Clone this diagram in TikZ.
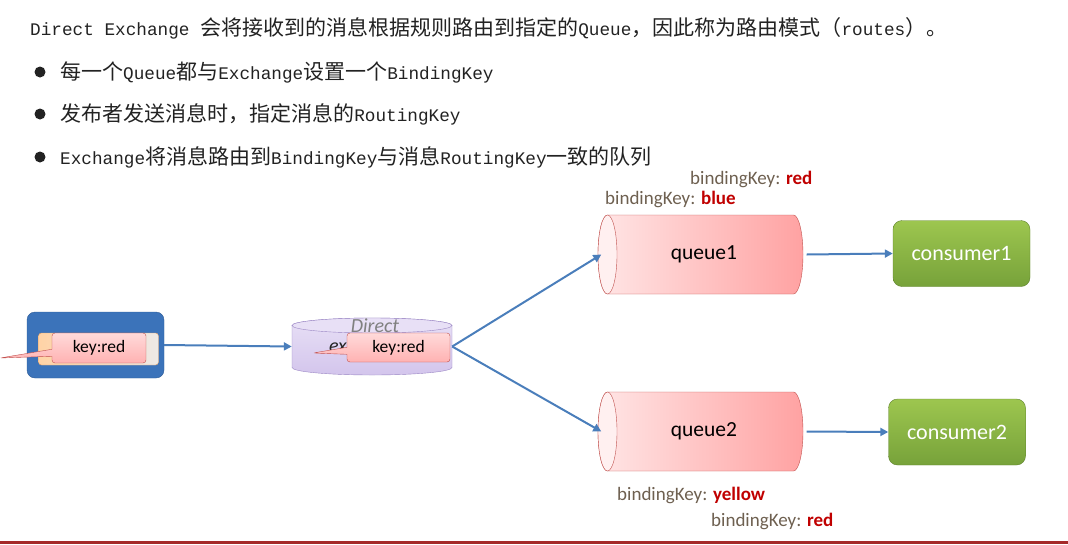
\documentclass[tikz,border=0pt]{standalone}
\usepackage{fontspec}
\setmainfont{Carlito}
\newfontfamily\mono{Liberation Mono}
\newfontfamily\cjk{Noto Sans CJK SC}[Scale=1.187]
\usetikzlibrary{arrows.meta,shapes.callouts}
\definecolor{txt}{HTML}{222222}
\definecolor{arr}{HTML}{4A7EBB}
\definecolor{prodblue}{HTML}{3B73BA}
\definecolor{keyor}{HTML}{FFD3A6}
\definecolor{keyorb}{HTML}{E8A060}
\definecolor{pinkt}{HTML}{FFDADA}
\definecolor{pinkb}{HTML}{FFB2B2}
\definecolor{pinkd}{HTML}{C0504D}
\definecolor{exl}{HTML}{E8E0F6}
\definecolor{exd}{HTML}{D3C5EC}
\definecolor{exb}{HTML}{9A86C4}
\definecolor{ql}{HTML}{FFE6E6}
\definecolor{qr}{HTML}{FFA2A2}
\definecolor{gtop}{HTML}{9DC64F}
\definecolor{gbot}{HTML}{77A23A}
\definecolor{lblgray}{HTML}{6E6050}
\definecolor{lblred}{HTML}{C00000}
\definecolor{barred}{HTML}{A52A2A}
\newcommand\zh[1]{{\cjk #1}}
\tikzset{
  line/.style={txt, anchor=west, inner sep=0pt, font=\mono\fontsize{17.7}{20}\selectfont},
  bul/.style={circle, fill=txt, minimum size=11pt, inner sep=0pt},
  conn/.style={draw=arr, line width=2pt, -{Triangle[length=8pt,width=8pt]}},
  keybox/.style={rectangle callout, rounded corners=3pt, draw=pinkd, top color=pinkt, bottom color=pinkb,
     callout pointer width=7pt, font=\fontsize{17.5}{19}\selectfont, inner sep=0pt},
  consumer/.style={rounded corners=9pt, top color=gtop, bottom color=gbot, draw=gbot!80!black, line width=0.4pt,
     text=white, minimum width=137pt, minimum height=66pt, font=\fontsize{22}{24}\selectfont},
  qtext/.style={font=\fontsize{21.5}{24}\selectfont, minimum width=205pt, minimum height=79pt, inner sep=0pt},
  bk/.style={anchor=west, inner sep=0pt, text=lblgray, font=\fontsize{19}{21}\selectfont},
}
\begin{document}
\begin{tikzpicture}[x=1pt,y=-1pt]
\useasboundingbox (0,0) rectangle (1068,544);
% text
\node[line] (title) at (30,28) {Direct Exchange \zh{会将接收到的消息根据规则路由到指定的}Queue\zh{，因此称为路由模式（}routes\zh{）。}};
\node[bul] (b1) at (40,72) {};
\node[bul] (b2) at (40,114) {};
\node[bul] (b3) at (40,157) {};
\node[line] (l1) at (60,72) {\zh{每一个}Queue\zh{都与}Exchange\zh{设置一个}BindingKey};
\node[line] (l2) at (60,114) {\zh{发布者发送消息时，指定消息的}RoutingKey};
\node[line] (l3) at (60,157) {Exchange\zh{将消息路由到}BindingKey\zh{与消息}RoutingKey\zh{一致的队列}};
% producer
\node[rounded corners=8pt, fill=prodblue, draw=prodblue!80!black, minimum width=137pt, minimum height=66pt, inner sep=0pt] (prod) at (95.5,345) {};
\node[rounded corners=3pt, draw=keyorb, left color=keyor, right color=keyor!70!prodblue!30, minimum width=120pt, minimum height=32pt, inner sep=0pt] (k1b) at (98.5,349) {};
\node[keybox, minimum width=94pt, minimum height=30pt, callout absolute pointer={(0,358)}] (k1) at (99,348) {key:red};
% exchange cylinder
\path[draw=exb, top color=exl, bottom color=exd] (292,325.5) -- (292,367.5) arc[start angle=180,end angle=0,x radius=80,y radius=7.5] -- (452,325.5) arc[start angle=0,end angle=-180,x radius=80,y radius=7.5] -- cycle;
\draw[exb, fill=exl] (372,325.5) ellipse[x radius=80,y radius=7.5];
\node[minimum width=160pt, minimum height=57pt, inner sep=0pt] (ex) at (372,346.5) {};
\node[text=gray, font=\itshape\fontsize{20}{22}\selectfont, inner sep=0pt] (exname) at (375,326) {Direct};
\node[text=txt, font=\itshape\fontsize{20}{22}\selectfont, inner sep=0pt, anchor=east] (exname2) at (347,348) {ex};
\node[keybox, minimum width=103pt, minimum height=29pt, callout absolute pointer={(313,353)}] (k2) at (398.5,347.5) {key:red};
% queues
\path[draw=pinkd, left color=ql, right color=qr] (607.5,215) -- (793.5,215) arc[start angle=-90,end angle=90,x radius=9.5,y radius=39.5] -- (607.5,294) arc[start angle=90,end angle=270,x radius=9.5,y radius=39.5] -- cycle;
\draw[pinkd, fill=ql!60!white] (607.5,254.5) ellipse[x radius=9.5,y radius=39.5];
\node[qtext] (q1) at (704,254.5) {queue1};
\path[draw=pinkd, left color=ql, right color=qr] (607.5,392) -- (793.5,392) arc[start angle=-90,end angle=90,x radius=9.5,y radius=39.5] -- (607.5,471) arc[start angle=90,end angle=270,x radius=9.5,y radius=39.5] -- cycle;
\draw[pinkd, fill=ql!60!white] (607.5,431.5) ellipse[x radius=9.5,y radius=39.5];
\node[qtext] (q2) at (704,431.5) {queue2};
% consumers
\node[consumer] (c1) at (961.5,253.5) {consumer1};
\node[consumer] (c2) at (957,432) {consumer2};
% labels
\node[bk] (bk1) at (690,179) {bindingKey: \textbf{\textcolor{lblred}{red}}};
\node[bk] (bk2) at (605,199) {bindingKey: \textbf{\textcolor{lblred}{blue}}};
\node[bk] (bk3) at (617,495) {bindingKey: \textbf{\textcolor{lblred}{yellow}}};
\node[bk] (bk4) at (711,521) {bindingKey: \textbf{\textcolor{lblred}{red}}};
% connectors
\draw[conn] (prod.east) -- (ex.west);
\draw[conn] (ex.east) -- (q1.west);
\draw[conn] (ex.east) -- (q2.west);
\draw[conn] (q1.east) -- (c1.west);
\draw[conn] (q2.east) -- (c2.west);
% bottom bar
\fill[barred] (0,541) rectangle (1068,544);
\end{tikzpicture}
\end{document}
